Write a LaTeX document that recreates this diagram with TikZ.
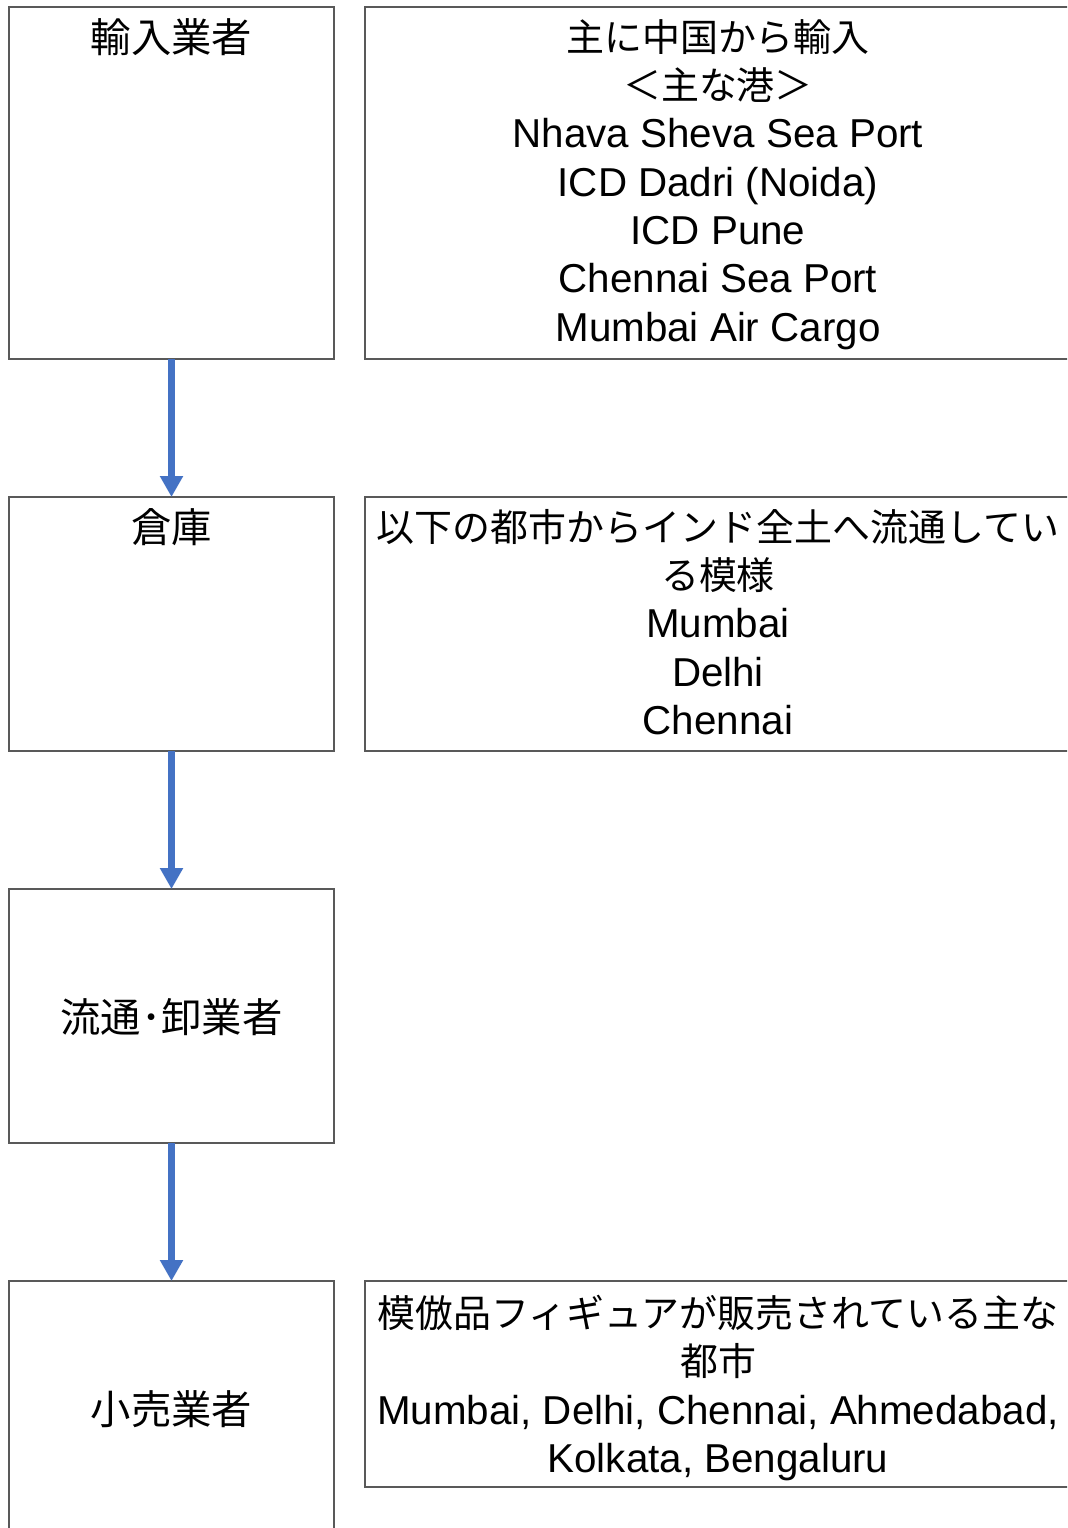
\documentclass[tikz,border=0pt]{standalone}
\usepackage{fontspec}
\setmainfont{Liberation Sans}
\newfontfamily\jp{Noto Sans CJK JP}
\usetikzlibrary{arrows.meta}
\definecolor{arrowblue}{HTML}{4472C4}
\definecolor{boxgray}{HTML}{595959}
\newcommand\jpr[1]{{\fontsize{38.1}{48.5}\selectfont\jp #1}}
\begin{document}
\begin{tikzpicture}[x=1bp,y=-1bp,
  box/.style={draw=boxgray,line width=1.3bp,fill=white,inner sep=0,outer sep=0,anchor=north west},
  txt/.style={align=center,inner sep=0,font=\fontsize{40.5}{48.5}\selectfont},
  flow/.style={draw=arrowblue,line width=6.5bp,-{Triangle[width=22bp,length=21bp]}}]
\useasboundingbox (0,0) rectangle (1067,1528);
\clip (0,0) rectangle (1067,1528);
\fill[white] (0,0) rectangle (1067,1528);
% left boxes
\node[box,minimum width=325bp,minimum height=352bp] (b1) at (9,7) {};
\node[box,minimum width=325bp,minimum height=254bp] (b2) at (9,497) {};
\node[box,minimum width=325bp,minimum height=254bp] (b3) at (9,889) {};
\node[box,minimum width=325bp,minimum height=256bp] (b4) at (9,1281) {};
% right boxes
\node[box,minimum width=706bp,minimum height=352bp] (r1) at (365,7) {};
\node[box,minimum width=706bp,minimum height=254bp] (r2) at (365,497) {};
\node[box,minimum width=706bp,minimum height=206bp] (r4) at (365,1281) {};
% left texts
\node[txt] (t1) at (171.5,37) {\jp 輸入業者};
\node[txt] (t2) at (171.5,527) {\jp 倉庫};
\node[txt] (t3) at (171.5,1017) {\jp 流通･卸業者};
\node[txt] (t4) at (171.5,1409) {\jp 小売業者};
% right texts
\node[txt,anchor=north] (s1) at (718,19) {\jpr{主に中国から輸入}\\\jpr{＜主な港＞}\\Nhava Sheva Sea Port\\ICD Dadri (Noida)\\ICD Pune\\Chennai Sea Port\\Mumbai Air Cargo};
\node[txt,anchor=north] (s2) at (718,509) {\jpr{以下の都市からインド全土へ流通してい}\\\jpr{る模様}\\Mumbai\\Delhi\\Chennai};
\node[txt,anchor=north] (s4) at (718,1295) {\jpr{模倣品フィギュアが販売されている主な}\\\jpr{都市}\\Mumbai, Delhi, Chennai, Ahmedabad,\\Kolkata, Bengaluru};
% arrows
\draw[flow] (b1.south) -- (b2.north);
\draw[flow] (b2.south) -- (b3.north);
\draw[flow] (b3.south) -- (b4.north);
\end{tikzpicture}
\end{document}
